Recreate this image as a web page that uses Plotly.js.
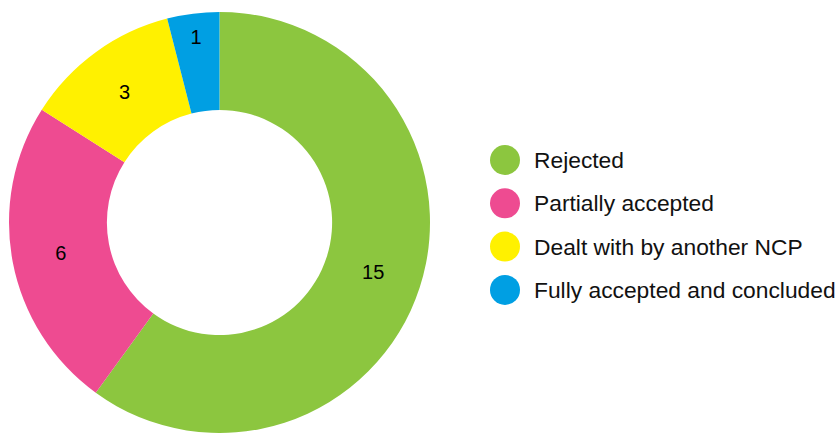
<!DOCTYPE html>
<html>
<head>
<meta charset="utf-8">
<script src="https://cdn.plot.ly/plotly-3.0.1.min.js"></script>
<style>
  html, body { margin: 0; padding: 0; background: #ffffff; overflow: hidden; }
  #chart { width: 838px; height: 433px; }
</style>
</head>
<body>
<div id="chart"></div>
<script>
// Data
const categories = ["Rejected", "Partially accepted", "Dealt with by another NCP", "Fully accepted and concluded"];
const values = [15, 6, 3, 1];
const colors = ["#8CC63F", "#EE4B91", "#FFF100", "#009FE3"];

const W = 838, H = 433, MT = 12;
const plotH = H - MT;

const pie = {
  type: "pie",
  labels: categories,
  values: values,
  sort: false,
  direction: "clockwise",
  rotation: 0,
  hole: 0.535,
  marker: { colors: colors, line: { width: 0 } },
  textinfo: "value",
  textposition: "inside",
  insidetextorientation: "horizontal",
  textfont: { family: "Liberation Sans, Arial, sans-serif", size: 20, color: "#000000" },
  domain: { x: [9 / W, 430 / W], y: [0, 1] },
  showlegend: false,
  hoverinfo: "none"
};

// Legend built from categories/colors (circle swatches + labels)
const legendX = 505, legendTextX = 532, legendY0 = 160, legendGap = 43.3;
const shapes = [], annotations = [];
categories.forEach((c, i) => {
  const ypx = legendY0 + i * legendGap;
  const yp = 1 - (ypx - MT) / plotH;
  shapes.push({
    type: "circle", xref: "paper", yref: "paper",
    xsizemode: "pixel", ysizemode: "pixel",
    xanchor: legendX / W, yanchor: yp,
    x0: -15, x1: 15, y0: -15, y1: 15,
    fillcolor: colors[i], line: { width: 0 }
  });
  annotations.push({
    xref: "paper", yref: "paper",
    x: legendTextX / W, y: yp,
    xanchor: "left", yanchor: "middle",
    text: c, showarrow: false,
    font: { family: "Liberation Sans, Arial, sans-serif", size: 22.8, color: "#111111" }
  });
});

const layout = {
  width: W, height: H,
  margin: { l: 0, r: 0, t: MT, b: 0, pad: 0 },
  paper_bgcolor: "#ffffff",
  plot_bgcolor: "#ffffff",
  showlegend: false,
  shapes: shapes,
  annotations: annotations
};

Plotly.newPlot("chart", [pie], layout, { staticPlot: true, displayModeBar: false });
</script>
</body>
</html>
